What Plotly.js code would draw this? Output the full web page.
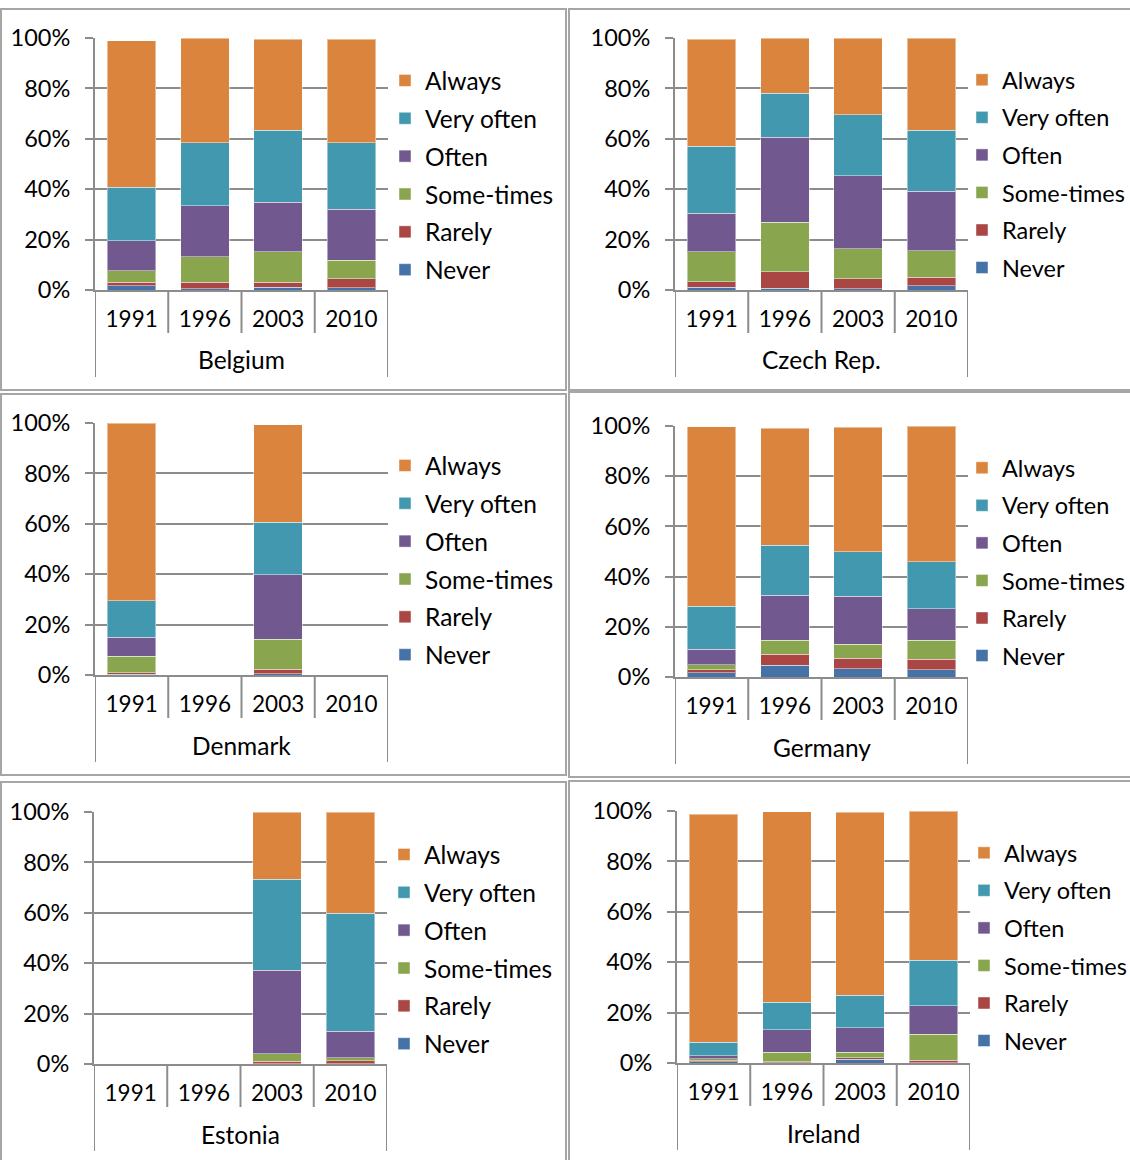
<!DOCTYPE html>
<html>
<head>
<meta charset="utf-8">
<script src="https://cdn.plot.ly/plotly-3.0.1.min.js"></script>
<style>
  html, body { margin: 0; padding: 0; background: #fff; overflow: hidden; }
  #chart { width: 1180px; height: 1160px; }
</style>
</head>
<body>
<div id="chart"></div>
<script>
// ---- Data (percent of respondents) ----
const years = ['1991', '1996', '2003', '2010'];
const categories = ['Never', 'Rarely', 'Some-times', 'Often', 'Very often', 'Always'];
const countries = ['Belgium', 'Czech Rep.', 'Denmark', 'Germany', 'Estonia', 'Ireland'];

// rows follow `categories` order (Never ... Always), columns follow `years`
const belgium = [
  [1.6, 0.4, 1.1, 0.8],
  [1.4, 2.6, 1.9, 3.6],
  [4.7, 10.2, 12.1, 7.5],
  [11.9, 20.3, 19.7, 20.2],
  [21.2, 25.0, 28.5, 26.4],
  [58.2, 41.5, 36.3, 41.1]
];
const czech = [
  [1.1, 0.7, 0.4, 1.6],
  [2.2, 6.6, 4.0, 3.4],
  [11.8, 19.5, 11.9, 10.5],
  [15.4, 33.9, 29.1, 23.6],
  [26.5, 17.4, 24.1, 24.2],
  [42.6, 21.9, 30.5, 36.7]
];
const denmark = [
  [0.3, null, 0.4, null],
  [0.6, null, 1.9, null],
  [6.6, null, 11.9, null],
  [7.5, null, 25.5, null],
  [14.5, null, 21.0, null],
  [70.5, null, 38.6, null]
];
const germany = [
  [1.7, 4.6, 3.2, 2.8],
  [1.2, 4.4, 4.2, 4.2],
  [2.0, 5.7, 5.7, 7.6],
  [6.2, 17.9, 19.0, 12.5],
  [17.0, 19.8, 17.9, 18.9],
  [71.6, 46.7, 49.5, 54.0]
];
const estonia = [
  [null, null, 0.1, 0.1],
  [null, null, 1.0, 1.2],
  [null, null, 2.9, 1.1],
  [null, null, 33.3, 10.5],
  [null, null, 36.1, 47.0],
  [null, null, 26.6, 40.1]
];
const ireland = [
  [0.5, 0.1, 1.5, 0.1],
  [0.3, 0.3, 0.6, 1.0],
  [0.8, 3.8, 2.1, 10.3],
  [1.3, 9.0, 9.8, 11.4],
  [5.3, 11.0, 12.8, 17.9],
  [90.5, 75.5, 72.7, 59.3]
];
const countryData = [belgium, czech, denmark, germany, estonia, ireland];

// ---- Styling / layout config ----
const colors = {
  'Never': '#4572A7',
  'Rarely': '#AA4643',
  'Some-times': '#89A54E',
  'Often': '#71588F',
  'Very often': '#4298AF',
  'Always': '#DB843D'
};
// the figure is a little wider than the 1130px window so the right-hand
// panel frames run off the edge (as in the original) without pushing margins
const W = 1180, H = 1160;
const FONT = 'Lato, "Open Sans", sans-serif';
const GRID = '#8c8c8c';
// pixel geometry of each panel: plot area, outer frame, legend offset/font
const panels = [
  { x0: 95,  x1: 388, yt: 38,  yb: 290, frame: [1, 566, 9, 390],     lx: -3, lf: 24.5 },
  { x0: 675, x1: 968, yt: 38,  yb: 290, frame: [569, 1150, 9, 390],   lx: -6, lf: 23.5 },
  { x0: 95,  x1: 388, yt: 423, yb: 675, frame: [1, 566, 394, 775],   lx: -3, lf: 24.5 },
  { x0: 675, x1: 968, yt: 426, yb: 677, frame: [569, 1150, 392, 777], lx: -6, lf: 23.5 },
  { x0: 94,  x1: 387, yt: 812, yb: 1064, frame: [1, 566, 782, 1170], lx: -3, lf: 24.5 },
  { x0: 677, x1: 970, yt: 811, yb: 1063, frame: [569, 1150, 781, 1170], lx: -6, lf: 23.5 }
];

const px = v => v / W;
const py = v => 1 - v / H;

const traces = [];
const layout = {
  width: W, height: H,
  margin: { l: 0, r: 0, t: 0, b: 0 },
  paper_bgcolor: '#fff', plot_bgcolor: '#fff',
  barmode: 'stack',
  bargap: 0.34,
  font: { family: FONT, size: 22, color: '#000' },
  shapes: [],
  annotations: []
};

panels.forEach((p, i) => {
  const s = i === 0 ? '' : String(i + 1);
  const legendName = 'legend' + s;
  const data = countryData[i];
  categories.forEach((cat, c) => {
    traces.push({
      type: 'bar',
      x: years,
      y: data[c],
      name: cat,
      xaxis: 'x' + s,
      yaxis: 'y' + s,
      legend: legendName,
      legendgroup: 'p' + i + '-' + cat,
      legendrank: 1000 - c,
      marker: { color: colors[cat], line: { color: 'rgba(255,255,255,0.45)', width: 1 } },
      hovertemplate: countries[i] + ' %{x}<br>' + cat + ': %{y}%<extra></extra>'
    });
  });

  layout['xaxis' + s] = {
    domain: [px(p.x0), px(p.x1)],
    anchor: 'y' + s,
    type: 'category',
    categoryorder: 'array',
    categoryarray: years,
    range: [-0.5, 3.5],
    showline: true, linecolor: GRID, linewidth: 2,
    ticks: '', showgrid: false, zeroline: false,
    tickfont: { family: FONT, size: 22.5, color: '#000' },
    ticklabelstandoff: 8,
    fixedrange: true
  };
  layout['yaxis' + s] = {
    domain: [py(p.yb), py(p.yt)],
    anchor: 'x' + s,
    range: [0, 100],
    dtick: 20,
    ticksuffix: '%',
    showgrid: true, gridcolor: GRID, gridwidth: 2,
    showline: true, linecolor: GRID, linewidth: 2,
    ticks: 'outside', ticklen: 8, tickwidth: 2, tickcolor: GRID,
    zeroline: false,
    tickfont: { family: FONT, size: 23.5, color: '#000' },
    ticklabelstandoff: 10,
    fixedrange: true
  };
  layout[legendName] = {
    x: px(p.x1 + p.lx), xanchor: 'left',
    y: py(p.yt + 20), yanchor: 'top',
    traceorder: 'grouped',
    tracegroupgap: p.lf < 24 ? 4 : 3,
    font: { family: FONT, size: p.lf, color: '#000' },
    bgcolor: 'rgba(0,0,0,0)',
    borderwidth: 0
  };

  // outer frame of panel
  layout.shapes.push({
    type: 'rect', xref: 'paper', yref: 'paper',
    x0: px(p.frame[0]), x1: px(p.frame[1]), y0: py(p.frame[3]), y1: py(p.frame[2]),
    line: { color: '#a6a6a6', width: 2 }, layer: 'below'
  });
  // category dividers (multi-level axis look)
  [0.5, 1.5, 2.5].forEach(k => layout.shapes.push({
    type: 'line', xref: 'x' + s, yref: 'paper',
    x0: k, x1: k, y0: py(p.yb), y1: py(p.yb + 43),
    line: { color: GRID, width: 2 }
  }));
  [-0.5, 3.5].forEach(k => layout.shapes.push({
    type: 'line', xref: 'x' + s, yref: 'paper',
    x0: k, x1: k, y0: py(p.yb), y1: py(p.yb + 87),
    line: { color: GRID, width: 2 }
  }));
  // country label (outer category level)
  layout.annotations.push({
    xref: 'x' + s + ' domain', yref: 'paper',
    x: 0.5, y: py(p.yb + 70), yanchor: 'middle', xanchor: 'center',
    text: countries[i], showarrow: false,
    font: { family: FONT, size: 24.5, color: '#000' }
  });
});

Plotly.newPlot('chart', traces, layout, { displayModeBar: false, staticPlot: false });
</script>
</body>
</html>
